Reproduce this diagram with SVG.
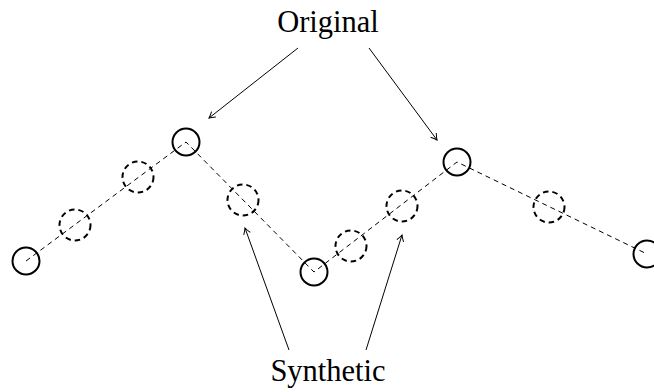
<svg xmlns="http://www.w3.org/2000/svg" width="654" height="392" viewBox="0 0 654 392">
<defs>
<style>
.orig{fill:none;stroke:#000;stroke-width:2}
.syn{fill:none;stroke:#000;stroke-width:2;stroke-dasharray:5.5 4}
.link{fill:none;stroke:#000;stroke-width:1;stroke-dasharray:5 4}
.arr{fill:none;stroke:#000;stroke-width:1;marker-end:url(#ah)}
.lbl{font-family:"Liberation Serif","Times New Roman",serif;font-size:30.5px;fill:#000;text-anchor:middle}
</style>
<marker id="ah" viewBox="-8 -5 10 10" refX="0" refY="0" markerWidth="10" markerHeight="10" markerUnits="userSpaceOnUse" orient="auto">
<path d="M-6,-3.5 Q-2,-0.8 0,0 Q-2,0.8 -6,3.5" fill="none" stroke="#000" stroke-width="1"/>
</marker>
</defs>
<g id="connectors">
<polyline class="link" points="26,261 186,142 314,272 457,162 647,254"/>
<line class="arr" x1="298" y1="48" x2="209" y2="118"/>
<line class="arr" x1="369" y1="48" x2="437" y2="140"/>
<line class="arr" x1="289" y1="350" x2="245" y2="228"/>
<line class="arr" x1="366" y1="350" x2="402" y2="235"/>
</g>
<g id="n1"><circle class="orig" cx="26" cy="261" r="13.5"/></g>
<g id="n2"><circle class="orig" cx="186" cy="142" r="13.5"/></g>
<g id="n3"><circle class="orig" cx="314" cy="272" r="13.5"/></g>
<g id="n4"><circle class="orig" cx="457" cy="162" r="13.5"/></g>
<g id="n5"><circle class="orig" cx="647" cy="254" r="13.5"/></g>
<g id="s1"><circle class="syn" cx="75" cy="225" r="15.5"/></g>
<g id="s2"><circle class="syn" cx="138" cy="177" r="15.5"/></g>
<g id="s3"><circle class="syn" cx="243" cy="200" r="15.5"/></g>
<g id="s4"><circle class="syn" cx="351" cy="246" r="15.5"/></g>
<g id="s5"><circle class="syn" cx="402" cy="206" r="15.5"/></g>
<g id="s6"><circle class="syn" cx="549" cy="207" r="15.5"/></g>
<g id="label-original"><text class="lbl" x="328" y="32">Original</text></g>
<g id="label-synthetic"><text class="lbl" x="328" y="381">Synthetic</text></g>
</svg>
